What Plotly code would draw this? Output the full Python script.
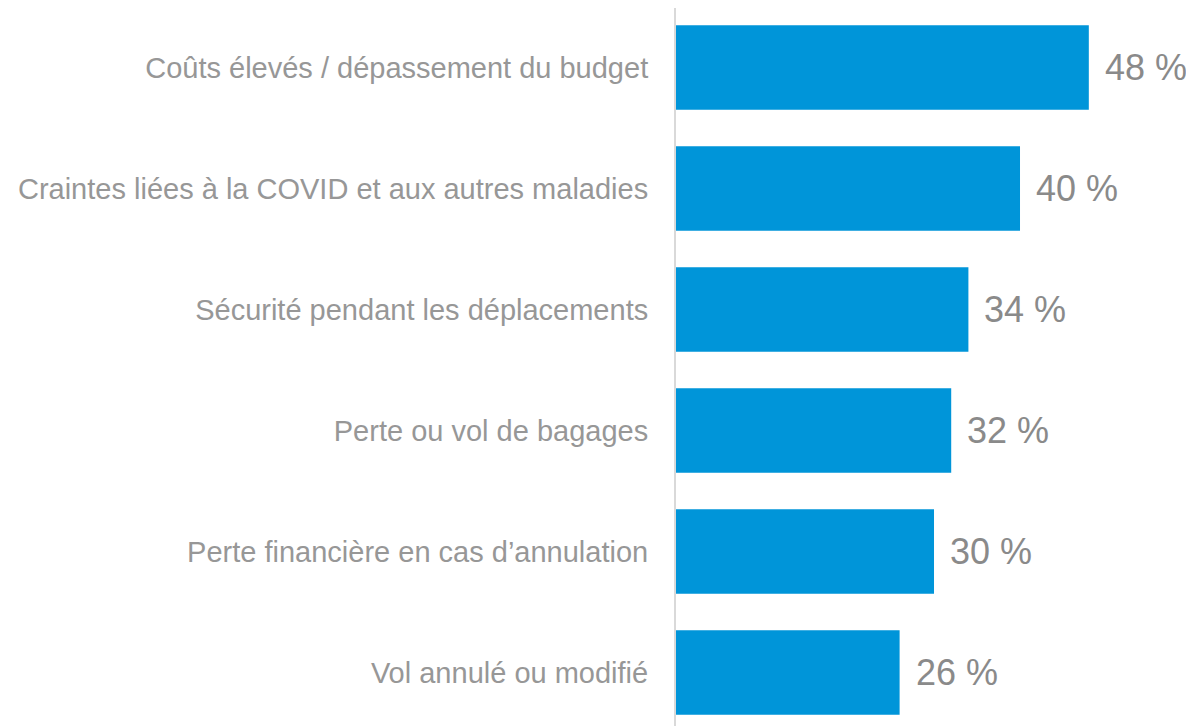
import plotly.graph_objects as go

categories = [
    "Coûts élevés / dépassement du budget",
    "Craintes liées à la COVID et aux autres maladies",
    "Sécurité pendant les déplacements",
    "Perte ou vol de bagages",
    "Perte financière en cas d’annulation",
    "Vol annulé ou modifié",
]
values = [48, 40, 34, 32, 30, 26]
value_labels = ["48 %", "40 %", "34 %", "32 %", "30 %", "26 %"]

BAR_COLOR = "#0095D9"
CAT_COLOR = "#979797"
VAL_COLOR = "#8a8a8a"
FONT = "Liberation Sans, Arial, sans-serif"

fig = go.Figure(
    go.Bar(
        x=values,
        y=categories,
        orientation="h",
        marker=dict(color=BAR_COLOR, line=dict(width=0)),
        width=0.7,
        hoverinfo="skip",
    )
)

for cat, v, lab in zip(categories, values, value_labels):
    fig.add_annotation(
        x=v, y=cat, text=lab, showarrow=False,
        xanchor="left", yanchor="middle", xshift=14,
        font=dict(family=FONT, size=36, color=VAL_COLOR),
    )

fig.update_layout(
    width=1186, height=718,
    margin=dict(l=668, r=0, t=0, b=0),
    paper_bgcolor="white", plot_bgcolor="white",
    showlegend=False,
    bargap=0.3,
    xaxis=dict(range=[0, 60.23], showgrid=False, zeroline=False,
               showticklabels=False, showline=False),
    yaxis=dict(
        range=[5.442, -0.4917], categoryorder="array", categoryarray=categories,
        showgrid=False, zeroline=False,
        showline=True, linecolor="#d9d9d9", linewidth=2,
        ticks="", ticklabelstandoff=20,
        tickfont=dict(family=FONT, size=29, color=CAT_COLOR),
    ),
)

fig.write_html("out.html")
